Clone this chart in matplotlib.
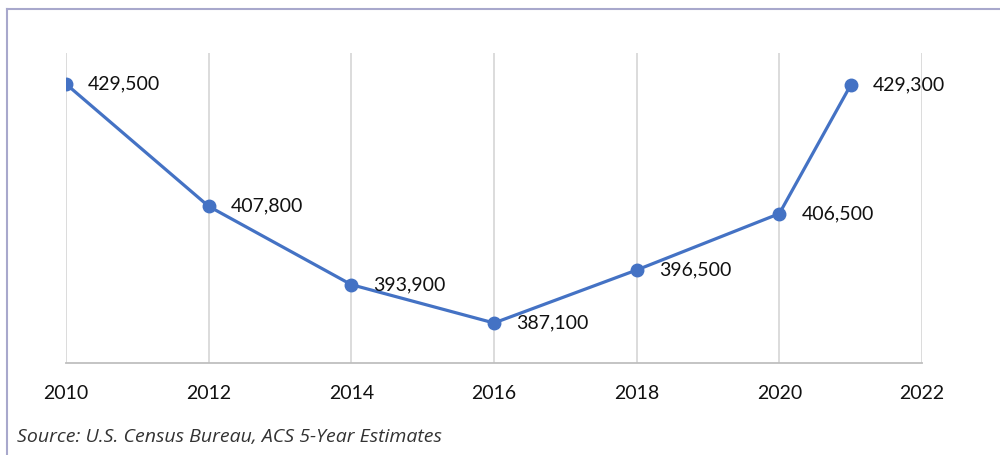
import matplotlib.pyplot as plt
from matplotlib.lines import Line2D

years = [2010, 2012, 2014, 2016, 2018, 2020, 2021]
values = [429500, 407800, 393900, 387100, 396500, 406500, 429300]
tick_years = [2010, 2012, 2014, 2016, 2018, 2020, 2022]

plt.rcParams['font.family'] = ['Lato', 'DejaVu Sans']

fig = plt.figure(figsize=(10, 4.55), dpi=100)
ax = fig.add_axes([0.066, 0.2022, 0.856, 0.6813])

ax.plot(years, values, color='#4472C4', linewidth=2.3, marker='o',
        markersize=9, zorder=3)
for x, y in zip(years, values):
    ax.annotate(f'{y:,}', (x, y), xytext=(16, 0), textcoords='offset points',
                va='center', ha='left', fontsize=14, color='#111111')

ax.set_xlim(2010, 2022)
ax.set_ylim(380000, 435000)
ax.set_xticks(tick_years)
ax.set_xticklabels([str(t) for t in tick_years], fontsize=14, color='#111111')
ax.tick_params(axis='x', length=0, pad=16)
ax.set_yticks([])
ax.grid(axis='x', color='#D9D9D9', linewidth=1.3)
for s in ['top', 'right', 'left']:
    ax.spines[s].set_visible(False)
ax.spines['bottom'].set_color('#BFBFBF')
ax.spines['bottom'].set_linewidth(1.3)

fig.text(0.017, 1 - 437 / 455, 'Source: U.S. Census Bureau, ACS 5-Year Estimates',
         family=['Open Sans', 'DejaVu Sans'], style='italic', fontsize=14,
         color='#333333', va='center', ha='left')

# outer frame
fig.add_artist(Line2D([0.007, 1.0], [1 - 9 / 455, 1 - 9 / 455],
                      color='#A8A8CC', linewidth=1.5, transform=fig.transFigure))
fig.add_artist(Line2D([0.007, 0.007], [0, 1 - 9 / 455],
                      color='#A8A8CC', linewidth=1.5, transform=fig.transFigure))

fig.savefig('out.png', dpi=100)
